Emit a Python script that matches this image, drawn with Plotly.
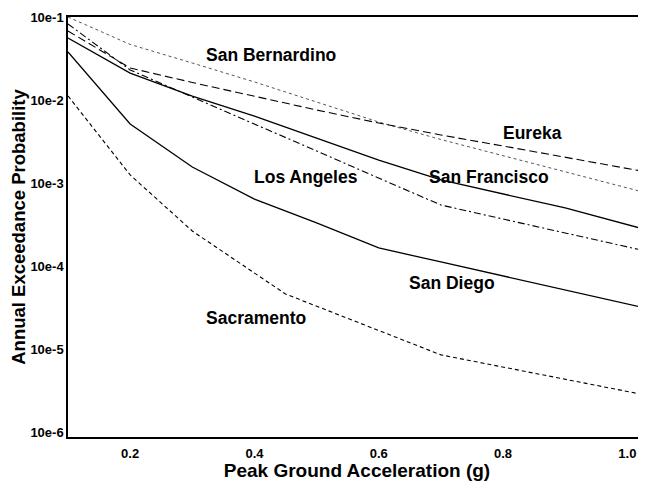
import plotly.graph_objects as go

pga = [0.1, 0.2, 0.3, 0.4, 0.5, 0.6, 0.7, 0.8, 0.9, 1.05]
san_bernardino = [0.1, 0.0467, 0.0279, 0.0165, 9.46e-3, 5.43e-3, 3.34e-3, 2.14e-3, 1.38e-3, 6.97e-4]
eureka = [0.0678, 0.0243, 0.01625, 0.01101, 7.58e-3, 5.28e-3, 3.79e-3, 2.79e-3, 2.06e-3, 1.28e-3]
san_francisco = [0.0558, 0.0211, 0.01116, 6.4e-3, 3.48e-3, 1.89e-3, 1.09e-3, 7.4e-4, 5.0e-4, 2.5e-4]
los_angeles = [0.0824, 0.0230, 0.01086, 5.14e-3, 2.43e-3, 1.15e-3, 5.43e-4, 3.68e-4, 2.5e-4, 1.40e-4]
san_diego = [0.0379, 5.14e-3, 1.56e-3, 6.41e-4, 3.30e-4, 1.65e-4, 1.12e-4, 7.58e-5, 5.14e-5, 2.87e-5]
sacramento_x = [0.1, 0.2, 0.3, 0.45, 0.7, 1.05]
sacramento = [1.12e-2, 1.25e-3, 2.64e-4, 4.6e-5, 8.5e-6, 2.6e-6]

x_ticks = [0.2, 0.4, 0.6, 0.8, 1.0]
x_tick_text = ["0.2", "0.4", "0.6", "0.8", "1.0"]
y_ticks = [1e-1, 1e-2, 1e-3, 1e-4, 1e-5, 1e-6]
y_tick_text = ["10e-1", "10e-2", "10e-3", "10e-4", "10e-5", "10e-6"]

labels = ["San Bernardino", "Eureka", "San Francisco", "Los Angeles", "San Diego", "Sacramento"]
label_x = [0.427, 0.847, 0.777, 0.483, 0.718, 0.4025]
label_y = [-1.458, -2.398, -2.928, -2.928, -4.205, -4.627]

FONT = "Liberation Sans, Arial, sans-serif"

fig = go.Figure()
series = [
    ("San Bernardino", pga, san_bernardino, dict(color="#555555", width=1, dash="dot")),
    ("Eureka", pga, eureka, dict(color="black", width=1.1, dash="8px,4px")),
    ("San Francisco", pga, san_francisco, dict(color="black", width=1.3, dash="solid")),
    ("Los Angeles", pga, los_angeles, dict(color="black", width=1.1, dash="7px,3px,2px,3px")),
    ("San Diego", pga, san_diego, dict(color="black", width=1.3, dash="solid")),
    ("Sacramento", sacramento_x, sacramento, dict(color="black", width=1.1, dash="4px,3px")),
]
for name, xs, ys, ln in series:
    fig.add_trace(go.Scatter(x=xs, y=ys, mode="lines", name=name, line=ln, showlegend=False))

for t, lx, ly in zip(labels, label_x, label_y):
    fig.add_annotation(x=lx, y=ly, xref="x", yref="y", text="<b>%s</b>" % t, showarrow=False,
                       font=dict(family=FONT, size=17.5, color="black"))

# page body has an 8px default margin; size the figure so the page needs no scrollbar
fig.update_layout(
    width=638, height=473,
    margin=dict(l=60, r=0, t=9, b=44),
    paper_bgcolor="white", plot_bgcolor="white",
    font=dict(family=FONT, color="black"),
)
fig.update_xaxes(range=[0.1, 1.03], tickvals=x_ticks, ticktext=["<b>%s</b>" % s for s in x_tick_text],
                 tickfont=dict(size=13), showgrid=False, zeroline=False, showline=True,
                 linecolor="black", linewidth=1.5, mirror=True, ticks="", ticklabelstandoff=4,
                 title=dict(text="<b>Peak Ground Acceleration (g)</b>", font=dict(size=19), standoff=6))
fig.update_yaxes(type="log", range=[-6.06, -1], tickvals=y_ticks,
                 ticktext=["<b>%s</b>" % s for s in y_tick_text],
                 tickfont=dict(size=13), showgrid=False, zeroline=False, showline=True,
                 linecolor="black", linewidth=1.5, ticks="",
                 title=dict(text="<b>Annual Exceedance Probability</b>", font=dict(size=18.5), standoff=2))

fig.write_html("out.html")
